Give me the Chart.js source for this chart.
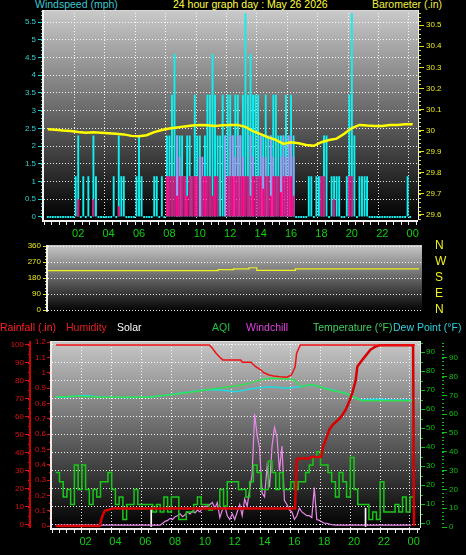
<!DOCTYPE html>
<html>
<head>
<meta charset="utf-8">
<script src="https://cdn.jsdelivr.net/npm/chart.js@4.4.1/dist/chart.umd.min.js"></script>
<style>
  html, body { margin: 0; padding: 0; background: #000; }
  #wrap { position: relative; width: 466px; height: 555px; overflow: hidden; background: #000;
          font-family: "Liberation Sans", Arial, sans-serif; }
  #wrap canvas { position: absolute; left: 0; }
  .t { position: absolute; white-space: nowrap; font-size: 10.5px; line-height: 13px; }
</style>
</head>
<body>
<div id="wrap">
  <span class="t" style="left:35px;top:-2px;color:#3cc8d0">Windspeed (mph)</span>
  <span class="t" style="left:173px;top:-2px;color:#ffff40">24 hour graph day : May 26 2026</span>
  <span class="t" style="left:372px;top:-2px;color:#f0f040">Barometer (.in)</span>

  <canvas id="topChart" width="466" height="245" style="top:0"></canvas>
  <canvas id="midChart" width="466" height="84" style="top:236px"></canvas>
  <canvas id="botChart" width="466" height="225" style="top:330px"></canvas>

  <span class="t" style="left:0;top:321px;color:#ff2020">Rainfall (.in)</span>
  <span class="t" style="left:66px;top:321px;color:#e02020">Humidity</span>
  <span class="t" style="left:117px;top:321px;color:#ffffff">Solar</span>
  <span class="t" style="left:212px;top:321px;color:#20c040">AQI</span>
  <span class="t" style="left:246px;top:321px;color:#e040e0">Windchill</span>
  <span class="t" style="left:313px;top:321px;color:#40d060">Temperature (°F)</span>
  <span class="t" style="left:393px;top:321px;color:#30d0e0">Dew Point (°F)</span>
</div>

<script>
// sample times (hours of the day)
const hours10 = Array.from({ length: 144 }, (_, i) => i / 6);   // every 10 min
const hours15 = Array.from({ length: 97 }, (_, i) => i / 4);    // every 15 min
const hours30 = Array.from({ length: 49 }, (_, i) => i / 2);    // every 30 min

// ---- top panel: wind (mph) and barometer (in) ----
const windGust = [
  0, 0, 0, 0, 0, 0,
  0, 0, 0, 0, 0, 1.15,
  2.3, 0, 1.15, 0, 1.15, 0,
  2.3, 1.15, 0, 0, 0, 0,
  0, 0, 1.15, 0, 2.3, 1.15,
  1.15, 0, 0, 0, 0, 1.15,
  2.3, 1.15, 0, 0, 0, 0,
  1.15, 1.15, 0, 1.15, 0, 2.3,
  2.3, 3.45, 4.6, 2.3, 2.3, 2.3,
  1.15, 2.3, 2.3, 1.15, 3.45, 2.3,
  2.3, 1.15, 2.3, 3.45, 3.45, 4.6,
  3.45, 2.3, 2.3, 3.45, 2.3, 3.45,
  3.45, 2.3, 3.45, 3.45, 2.3, 3.45,
  5.75, 3.45, 4.6, 3.45, 3.45, 3.45,
  2.3, 2.3, 3.45, 2.3, 2.3, 3.45,
  3.45, 2.3, 2.3, 2.3, 3.45, 2.3,
  3.45, 2.3, 0, 0, 0, 0,
  0, 1.15, 1.15, 0, 1.15, 1.15,
  1.15, 2.3, 2.3, 0, 1.15, 1.15,
  1.15, 1.15, 0, 0, 1.15, 3.45,
  5.75, 2.3, 0, 1.15, 1.15, 1.15,
  1.15, 0, 0, 0, 0, 0,
  0, 0, 0, 0, 0, 0,
  0, 0, 0, 0, 1.15, 0
];
const windAvg = [
  0, 0, 0, 0, 0, 0,
  0, 0, 0, 0, 0, 0,
  0.5, 0, 0, 0, 0, 0,
  0.5, 0, 0, 0, 0, 0,
  0, 0, 0, 0, 0.3, 0,
  0, 0, 0, 0, 0, 0,
  0, 0, 0, 0, 0, 0,
  0, 0, 0, 0, 0, 1.15,
  1.15, 1.15, 1.15, 0.6, 1.15, 1.15,
  1.15, 0.6, 1.15, 1.15, 1.15, 1.15,
  0, 1.15, 1.15, 1.15, 1.15, 0.6,
  1.15, 1.15, 0, 0, 0, 1.15,
  1.15, 1.15, 1.15, 1.15, 1.15, 1.15,
  1.15, 1.15, 0.6, 1.15, 1.15, 1.15,
  1.15, 0.8, 1.15, 1.15, 0.6, 1.15,
  1.15, 1.15, 0.7, 1.15, 1.15, 1.15,
  1.15, 0.6, 0, 0, 0, 0,
  0, 0, 0, 0, 0, 0,
  1.15, 1.15, 0, 0, 0, 0.5,
  0, 0, 0, 0, 0, 1.15,
  1.15, 0, 0, 0, 0, 0,
  0, 0, 0, 0, 0, 0,
  0, 0, 0, 0, 0, 0,
  0, 0, 0, 0, 0, 0
];
const windAvgHigh = [
  0, 0, 0, 0, 0, 0,
  0, 0, 0, 0, 0, 0,
  0, 0, 0, 0, 0, 0,
  0, 0, 0, 0, 0, 0,
  0, 0, 0, 0, 0, 0,
  0, 0, 0, 0, 0, 0,
  0, 0, 0, 0, 0, 0,
  0, 0, 0, 0, 0, 0,
  0, 0, 0, 2.3, 1.7, 0,
  0, 0, 0, 0, 0, 0,
  1.7, 1.7, 0, 0, 0, 0,
  0, 0, 0, 0, 2.3, 0,
  2.3, 2.3, 1.7, 2.3, 2.3, 1.7,
  0, 0, 2.3, 1.7, 0, 0,
  2.3, 1.7, 1.7, 0, 2.3, 1.7,
  0, 0, 1.7, 2.3, 1.7, 2.3,
  2.3, 1.7, 0, 0, 0, 0,
  0, 0, 0, 0, 0, 0,
  0, 0, 0, 0, 0, 0,
  0, 0, 0, 0, 0, 0,
  0, 0, 0, 0, 0, 0,
  0, 0, 0, 0, 0, 0,
  0, 0, 0, 0, 0, 0,
  0, 0, 0, 0, 0, 0
];
const barometer = [
  30.006, 30.004, 30.000, 29.998, 29.993, 29.990, 29.992, 29.990, 29.988, 29.985,
  29.982, 29.975, 29.973, 29.978, 29.993, 30.003, 30.010, 30.015, 30.020, 30.024,
  30.027, 30.025, 30.022, 30.025, 30.027, 30.026, 30.018, 29.997, 29.983, 29.968,
  29.956, 29.937, 29.945, 29.940, 29.932, 29.928, 29.945, 29.955, 29.962, 29.985,
  30.012, 30.027, 30.024, 30.022, 30.022, 30.026, 30.027, 30.030, 30.030
];

// ---- middle panel: wind direction (degrees) ----
const windDir = [
  221.5, 221.5, 221.5, 221.5, 221.5, 221.5, 221.5, 221.5, 221.5, 221.5, 221.5,
  221.5, 221.5, 221.5, 221.5, 221.5, 221.5, 221.5, 221.5, 221.5, 221.5, 221.5,
  227, 227, 232, 232, 238, 223, 223, 223, 223, 223, 232,
  232, 232, 232, 232, 232, 232, 232, 232, 232, 232, 232, 232, 232, 232, 232, 232
];
const compassTicks = [0, 90, 180, 270, 360];
const compassNames = ['N', 'E', 'S', 'W', 'N'];

// ---- bottom panel ----
const humHours = [0, 10.3, 10.5, 10.75, 11.0, 11.2, 12.4, 12.5, 13.1, 13.4, 13.7, 13.95, 14.3, 14.6, 15.05, 15.5, 15.8, 16.05, 16.15, 16.4, 24.1];
const humidity = [100, 100, 98.2, 95.4, 93.2, 91.7, 91.7, 90.4, 90.4, 87.9, 86.5, 84.6, 83.3, 82.8, 82.4, 82.1, 83.3, 87.9, 95.4, 100, 100];

const rainHours = [0, 2.95, 3.05, 3.15, 3.3, 3.5, 3.8, 16.05, 16.15, 16.25, 17.0, 17.1, 17.8, 17.9, 18.13, 18.35, 18.57, 18.79,
  19.12, 19.45, 19.67, 19.89, 20.11, 20.22, 20.44, 20.77, 21.1, 21.43, 21.76, 23.96, 24.02];
const rainfall = [0, 0, 0.04, 0.07, 0.1, 0.105, 0.115, 0.115, 0.43, 0.44, 0.44, 0.45, 0.45, 0.51, 0.57, 0.63, 0.66, 0.68,
  0.71, 0.76, 0.81, 0.87, 0.95, 1.04, 1.07, 1.11, 1.15, 1.17, 1.18, 1.18, 0];

const temperature = [
  66.5, 66.5, 66.7, 66.7, 66.5, 66.5, 66.2, 66.2, 66.2, 66.2, 66.2, 66.2, 66.2, 66.5, 67.0, 67.4, 67.8,
  68.3, 68.8, 69.4, 70.0, 70.5, 71.0, 71.6, 72.0, 72.8, 73.5, 74.8, 75.8, 76.2, 76.0, 75.8, 75.4,
  71.6, 72.9, 72.2, 70.9, 69.8, 69.1, 68.0, 66.2, 64.4, 64.4, 64.4, 64.4, 64.4, 64.4, 64.4, 64.4
];
const dewPoint = [
  66.2, 66.2, 66.5, 66.9, 67.1, 66.7, 66.2, 66.2, 66.2, 66.0, 66.0, 66.2, 66.2, 66.5, 66.8, 67.4, 67.9,
  68.5, 69.0, 69.6, 70.0, 70.2, 70.0, 69.6, 69.1, 69.8, 70.5, 71.0, 71.5, 71.7, 71.3, 70.9, 71.5,
  71.8, 72.7, 72.2, 71.1, 70.2, 69.1, 68.2, 66.2, 64.8, 65.0, 65.1, 65.0, 64.8, 64.8, 64.8, 64.8
];
const aqi = [
  29, 24, 16, 20,  12, 33, 20, 33,  20, 12, 20, 16,  24, 24, 29, 20,
  12, 16, 4, 12,   12, 20, 12, 12,  12, 12, 8, 12,   8, 16, 8, 16,
  16, 4, 4, 8,     8, 12, 16, 12,   12, 9, 10, 10,   20, 11, 24, 24,
  24, 20, 20, 16,  24, 33, 29, 20,  20, 35, 29, 20,  29, 20, 20, 24,
  20, 24, 24, 29,  33, 37, 40, 33,  33, 29, 24, 16,  29, 24, 16, 37,
  20, 12, 12, 12,  4, 8, 4, 24,     8, 8, 8, 12,     8, 16, 8, 16,
  24
];
const windchill = [
  1, 1, 1, 1, 1, 1,   1, 1, 1, 1, 1, 1,   1, 1, 1, 1, 1, 1,   1, 1, 1, 1, 1, 1,
  1, 1, 1, 1, 1, 1,   1, 1, 1, 1, 1, 1,   1, 1, 1, 1, 1, 1,
  1, 2, 3, 3.5, 4.6, 4,
  5.5, 6, 7, 5.5, 6.5, 8,
  7, 8.5, 7.5, 9, 8, 10,
  11, 11, 12, 13, 10, 13,
  5, 9, 11, 6, 4, 7,
  4, 8, 12, 6, 15, 11,
  20, 28, 60, 49, 42, 18,
  16, 32, 21, 43, 53, 48,
  30, 43, 14, 12, 9, 8,
  4, 6, 10, 8, 7, 6,
  6, 5, 21, 4, 3.5, 2.8,
  2, 2, 1.5, 1.2, 1.1, 1,
  1, 1, 1, 1, 1, 1,   1, 1, 1, 1, 1, 1,   1, 1, 1, 1, 1, 1,
  1, 1, 1, 1, 1, 1,   1, 1, 1, 1, 1, 1
];
const solarHours = [6.4, 20.77];
const solar = [10, 10];

// ---- helpers ----
Chart.defaults.font.family = '"Liberation Sans", Arial, sans-serif';
const gridDot = 'rgba(255,255,255,0.9)';
const clear = 'rgba(0,0,0,0)';

function pts(xs, ys) { return xs.map((x, i) => ({ x: x, y: ys[i] })); }
function num(v) { return String(+v.toFixed(2)); }
function isEvenHour(v) { return Math.abs(v / 2 - Math.round(v / 2)) < 1e-6; }
function hourLabel(v) {
  if (v <= 0 || !isEvenHour(v)) return '';
  return String(Math.round(v) % 24).padStart(2, '0');
}
function hourGrid(c) { return c.tick && c.tick.value > 0 && isEvenHour(c.tick.value) ? gridDot : clear; }
function fixW(w) { return s => { s.width = w; }; }
function fixH(h) { return s => { s.height = h; }; }

// gradient plot background, minor axis ticks, plot frame
function panelDeco(cfg) {
  return {
    id: 'panelDeco',
    beforeDraw(chart) {
      const { ctx, chartArea: a } = chart;
      const g = ctx.createLinearGradient(0, a.top, 0, a.bottom);
      g.addColorStop(0, cfg.top);
      g.addColorStop(1, cfg.bottom);
      ctx.save();
      ctx.fillStyle = g;
      ctx.fillRect(a.left, a.top, a.right - a.left, a.bottom - a.top);
      ctx.restore();
    },
    afterDatasetsDraw(chart) {
      const { ctx, chartArea: a } = chart;
      ctx.save();
      (cfg.minor || []).forEach(m => {
        const s = chart.scales[m.id];
        ctx.strokeStyle = m.color;
        ctx.lineWidth = 1;
        ctx.beginPath();
        for (let k = Math.ceil(s.min / m.step); k * m.step <= s.max; k++) {
          const p = Math.round(s.getPixelForValue(k * m.step)) + 0.5;
          if (s.position === 'left') { ctx.moveTo(s.right - m.len, p); ctx.lineTo(s.right, p); }
          else { ctx.moveTo(s.left, p); ctx.lineTo(s.left + m.len, p); }
        }
        ctx.stroke();
      });
      (cfg.lines || []).forEach(l => {
        const s = chart.scales[l.id];
        ctx.fillStyle = l.color;
        ctx.fillRect(s.right - l.width, a.top, l.width, a.bottom - a.top);
      });
      const f = cfg.frame || {};
      if (f.top) { ctx.fillStyle = f.top[0]; ctx.fillRect(a.left, a.top, a.right - a.left, f.top[1]); }
      if (f.right) { ctx.fillStyle = f.right[0]; ctx.fillRect(a.right, a.top, f.right[1], a.bottom - a.top); }
      if (f.left) { ctx.fillStyle = f.left[0]; ctx.fillRect(a.left - f.left[1], a.top, f.left[1], a.bottom - a.top); }
      if (f.bottom) { ctx.fillStyle = f.bottom[0]; ctx.fillRect(a.left - 2, a.bottom, a.right - a.left + 2, f.bottom[1]); }
      ctx.restore();
    }
  };
}

const baseOpts = {
  responsive: false,
  animation: false,
  events: [],
  elements: { point: { radius: 0 }, line: { tension: 0 } },
  plugins: { legend: { display: false }, tooltip: { enabled: false } }
};

function hourAxis(max, height) {
  return {
    type: 'linear', min: 0, max: max, afterFit: fixH(height),
    ticks: { stepSize: 0.5, includeBounds: false, autoSkip: false, maxRotation: 0, minRotation: 0, color: '#10d010',
             font: { size: 11 }, padding: 2, callback: hourLabel },
    grid: { color: hourGrid, tickColor: '#e8e8e8', tickLength: 5 },
    border: { display: false, dash: [1, 2] }
  };
}

// ---- top chart ----
new Chart(document.getElementById('topChart'), {
  type: 'line',
  data: {
    datasets: [
      { label: 'Barometer (.in)', data: pts(hours30, barometer), yAxisID: 'yBaro',
        borderColor: '#ffff00', borderWidth: 2.5 },
      { type: 'bar', label: 'Wind avg', data: pts(hours10, windAvg), yAxisID: 'yWind',
        backgroundColor: '#ff0080', grouped: false, categoryPercentage: 1, barPercentage: 0.75 },
      { type: 'bar', label: 'Wind avg high', data: pts(hours10, windAvgHigh), yAxisID: 'yWind',
        backgroundColor: '#9c9cf0', grouped: false, categoryPercentage: 1, barPercentage: 0.75 },
      { type: 'bar', label: 'Wind gust', data: pts(hours10, windGust), yAxisID: 'yWind',
        backgroundColor: '#10f0f0', grouped: false, categoryPercentage: 1, barPercentage: 0.75, minBarLength: 2 }
    ]
  },
  options: Object.assign({}, baseOpts, {
    layout: { padding: { top: 10, left: 0, right: 0, bottom: 0 } },
    scales: {
      x: hourAxis(24.1, 25),
      yWind: {
        position: 'left', min: -0.085, max: 5.84, afterFit: fixW(44),
        ticks: { stepSize: 0.5, includeBounds: false, autoSkip: false, color: '#30d0d0', font: { size: 8 }, padding: 2, callback: num },
        grid: { color: c => (c.tick && c.tick.value > 0 ? gridDot : clear), tickColor: '#20d0d0', tickLength: 6 },
        border: { display: false, dash: [1, 2] }
      },
      yBaro: {
        position: 'right', min: 29.576, max: 30.572, afterFit: fixW(48),
        ticks: { stepSize: 0.1, includeBounds: false, autoSkip: false, color: '#e8e820', font: { size: 8 }, padding: 2, callback: num },
        grid: { drawOnChartArea: false, tickColor: '#e0e020', tickLength: 6 },
        border: { display: false }
      }
    }
  }),
  plugins: [panelDeco({
    top: '#cacaca', bottom: '#000000',
    minor: [{ id: 'yWind', step: 0.1, len: 3, color: '#20d0d0' }, { id: 'yBaro', step: 0.02, len: 3, color: '#e0e020' }],
    frame: { top: ['#d8d8d8', 1], right: ['#f0f0f0', 1], left: ['#f4f4f4', 2], bottom: ['#f0f0f0', 2] }
  })]
});

// ---- middle chart ----
new Chart(document.getElementById('midChart'), {
  type: 'line',
  data: {
    datasets: [
      { label: 'Wind direction', data: pts(hours30, windDir), yAxisID: 'yDir',
        borderColor: '#f0f020', borderWidth: 1.2, stepped: true }
    ]
  },
  options: Object.assign({}, baseOpts, {
    layout: { padding: { top: 9, left: 0, right: 0, bottom: 7 } },
    scales: {
      x: { type: 'linear', display: false, min: 0, max: 24.19 },
      yDir: {
        position: 'left', min: -10, max: 366, afterFit: fixW(48),
        ticks: { stepSize: 90, includeBounds: false, autoSkip: false, color: '#e8e820', font: { size: 8 }, padding: 2 },
        grid: { color: gridDot, tickColor: '#e0e020', tickLength: 5 },
        border: { display: false, dash: [1, 2] }
      },
      yCompass: {
        position: 'right', min: -10, max: 366, afterFit: fixW(44),
        ticks: { stepSize: 90, includeBounds: false, autoSkip: false, color: '#f0f020', font: { size: 12 }, padding: 1,
                 callback: v => compassNames[compassTicks.indexOf(v)] },
        grid: { drawOnChartArea: false, tickColor: clear, tickLength: 12 },
        border: { display: false }
      }
    }
  }),
  plugins: [panelDeco({
    top: '#c8c8c8', bottom: '#000000',
    minor: [{ id: 'yDir', step: 18, len: 3, color: '#e0e020' }],
    frame: { left: ['#f4f4f4', 2] }
  })]
});

// ---- bottom chart ----
new Chart(document.getElementById('botChart'), {
  type: 'line',
  data: {
    datasets: [
      { label: 'Humidity', data: pts(humHours, humidity), yAxisID: 'yHum',
        borderColor: '#f01010', borderWidth: 1.5 },
      { label: 'Rainfall (.in)', data: pts(rainHours, rainfall), yAxisID: 'yRain',
        borderColor: '#d80000', borderWidth: 2.5 },
      { label: 'Temperature (°F)', data: pts(hours30, temperature), yAxisID: 'yTemp',
        borderColor: '#30e050', borderWidth: 1.5 },
      { label: 'Dew Point (°F)', data: pts(hours30, dewPoint), yAxisID: 'yTemp',
        borderColor: '#20d8e0', borderWidth: 1.5 },
      { label: 'AQI', data: pts(hours15, aqi), yAxisID: 'yOut',
        borderColor: '#18c818', borderWidth: 1.5, stepped: true },
      { label: 'Windchill', data: pts(hours10, windchill), yAxisID: 'yOut',
        borderColor: '#e888e8', borderWidth: 1.2 },
      { type: 'bar', label: 'Solar', data: pts(solarHours, solar), yAxisID: 'yOut',
        backgroundColor: '#ffffff', barThickness: 1, grouped: false }
    ]
  },
  options: Object.assign({}, baseOpts, {
    layout: { padding: { top: 11, left: 0, right: 0, bottom: 0 } },
    scales: {
      x: hourAxis(24.17, 27),
      yRain: {
        position: 'left', weight: 0, min: -0.013, max: 1.207, afterFit: fixW(21),
        ticks: { stepSize: 0.1, includeBounds: false, autoSkip: false, color: '#e01010', font: { size: 8 }, padding: 1, callback: num },
        grid: { drawOnChartArea: false, tickColor: '#e01010', tickLength: 5 },
        border: { display: false }
      },
      yHum: {
        position: 'left', weight: 1, min: -1.67, max: 102.2, afterFit: fixW(31),
        ticks: { stepSize: 10, includeBounds: false, autoSkip: false, color: '#e01010', font: { size: 8 }, padding: 1 },
        grid: { color: gridDot, tickColor: '#e01010', tickLength: 6 },
        border: { display: false, dash: [1, 2] }
      },
      yTemp: {
        position: 'right', weight: 0, min: -2.63, max: 95.8, afterFit: fixW(22),
        ticks: { stepSize: 10, includeBounds: false, autoSkip: false, color: '#10c010', font: { size: 8 }, padding: 1 },
        grid: { drawOnChartArea: false, tickColor: '#10c010', tickLength: 5 },
        border: { display: false }
      },
      yOut: {
        position: 'right', weight: 1, min: -0.53, max: 98.9, afterFit: fixW(24),
        ticks: { stepSize: 10, includeBounds: false, autoSkip: false, color: '#10c010', font: { size: 8 }, padding: 2 },
        grid: { drawOnChartArea: false, tickColor: '#10c010', tickLength: 5 },
        border: { display: false }
      }
    }
  }),
  plugins: [panelDeco({
    top: '#c8c8c8', bottom: '#000000',
    minor: [
      { id: 'yHum', step: 5, len: 3, color: '#e01010' },
      { id: 'yRain', step: 0.05, len: 3, color: '#e01010' },
      { id: 'yTemp', step: 5, len: 3, color: '#10c010' },
      { id: 'yOut', step: 2, len: 2, color: '#10c010' }
    ],
    lines: [{ id: 'yHum', width: 2, color: '#d00000' }],
    frame: { top: ['#e0e0e0', 1], right: ['#d8f0d8', 1], left: ['#f4e8e8', 2], bottom: ['#f0f0f0', 2] }
  })]
});
</script>
</body>
</html>
